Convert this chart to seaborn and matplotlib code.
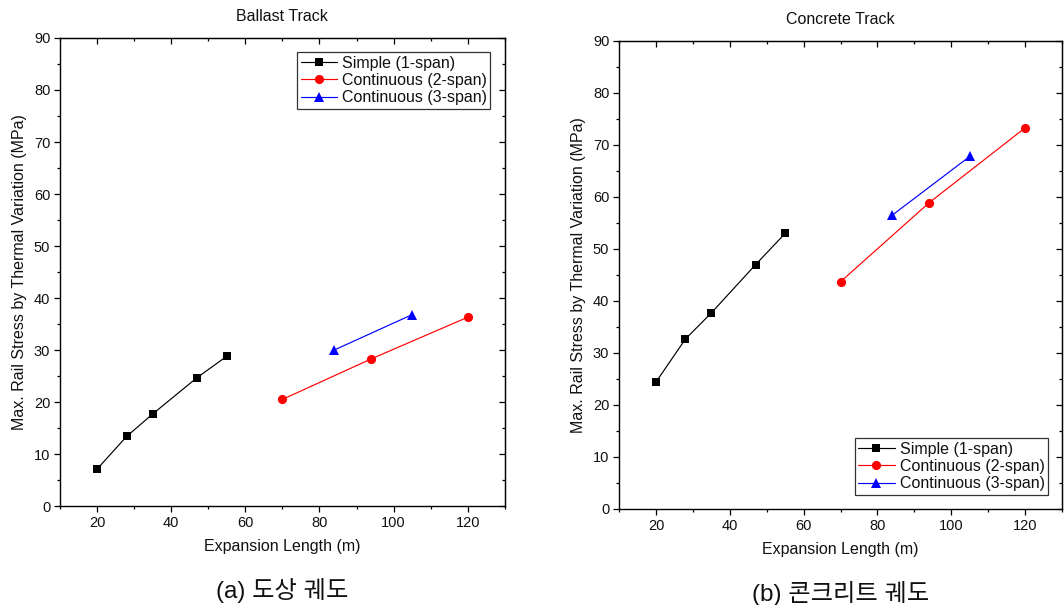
import pandas as pd
import seaborn as sns
import matplotlib.pyplot as plt
from matplotlib.ticker import MultipleLocator

# expansion lengths (m)
x_simple = [20, 28, 35, 47, 55]
x_cont2 = [70, 94, 120]
x_cont3 = [84, 105]

# max rail stress (MPa)
ballast_simple = [7.1, 13.4, 17.7, 24.7, 28.8]
ballast_cont2 = [20.5, 28.3, 36.3]
ballast_cont3 = [30.0, 36.8]

concrete_simple = [24.4, 32.7, 37.7, 47.0, 53.0]
concrete_cont2 = [43.7, 58.9, 73.3]
concrete_cont3 = [56.5, 67.8]

labels = ["Simple (1-span)", "Continuous (2-span)", "Continuous (3-span)"]
colors = ["black", "red", "blue"]
markers = ["s", "o", "^"]
msizes = [6, 6.6, 7.6]

sns.set_style("ticks")
plt.rcParams["font.family"] = ["Liberation Sans", "Noto Sans CJK KR", "DejaVu Sans"]
plt.rcParams["text.color"] = "#111111"
plt.rcParams["axes.labelcolor"] = "#111111"
plt.rcParams["xtick.color"] = "black"
plt.rcParams["ytick.color"] = "black"
plt.rcParams["xtick.labelcolor"] = "#111111"
plt.rcParams["ytick.labelcolor"] = "#111111"


def draw(ax, xs, ys, title, legend_loc, caption):
    for x, y, lab, c, m, ms in zip(xs, ys, labels, colors, markers, msizes):
        df = pd.DataFrame({"x": x, "y": y})
        sns.lineplot(data=df, x="x", y="y", color=c, marker=m, markersize=ms,
                     markeredgewidth=0, linewidth=0.85, sort=False, label=lab, ax=ax)
    ax.set_xlim(10, 130)
    ax.set_ylim(0, 90)
    ax.xaxis.set_major_locator(MultipleLocator(20))
    ax.xaxis.set_minor_locator(MultipleLocator(10))
    ax.yaxis.set_major_locator(MultipleLocator(10))
    ax.yaxis.set_minor_locator(MultipleLocator(5))
    ax.tick_params(which="major", direction="out", length=4, width=0.9, labelsize=10.5, pad=3,
                   bottom=True, left=True)
    ax.tick_params(which="minor", direction="out", length=2.5, width=0.9, bottom=True, left=True)
    for s in ax.spines.values():
        s.set_visible(True)
        s.set_linewidth(1.0)
        s.set_color("black")
    # mirrored inward ticks on top and right
    top = ax.secondary_xaxis("top")
    top.xaxis.set_major_locator(MultipleLocator(20))
    top.xaxis.set_minor_locator(MultipleLocator(10))
    top.tick_params(which="major", direction="in", length=4, width=0.9, labeltop=False, top=True)
    top.tick_params(which="minor", direction="in", length=2.5, width=0.9, top=True)
    right = ax.secondary_yaxis("right")
    right.yaxis.set_major_locator(MultipleLocator(10))
    right.yaxis.set_minor_locator(MultipleLocator(5))
    right.tick_params(which="major", direction="in", length=4, width=0.9, labelright=False, right=True)
    right.tick_params(which="minor", direction="in", length=2.5, width=0.9, right=True)

    ax.set_xlabel("Expansion Length (m)", fontsize=11.5, labelpad=7)
    ax.set_ylabel("Max. Rail Stress by Thermal Variation (MPa)", fontsize=11.5, labelpad=5)
    ax.set_title(title, fontsize=11.5, pad=12)
    leg = ax.legend(loc=legend_loc, fontsize=11.5, frameon=True, fancybox=False,
                    edgecolor="black", handlelength=2.3, handletextpad=0.3,
                    borderpad=0.2, labelspacing=0.15, borderaxespad=0.9)
    leg.get_frame().set_linewidth(0.9)
    ax.text(0.5, -0.18, caption, transform=ax.transAxes, ha="center", va="center",
            fontsize=17.5, fontweight="light", family=["Liberation Sans", "Noto Sans CJK KR"])


fig = plt.figure(figsize=(10.64, 6.05), dpi=100)
ax1 = fig.add_axes([0.0564, 0.1636, 0.418, 0.7736])
ax2 = fig.add_axes([0.5818, 0.1587, 0.4164, 0.7736])

draw(ax1, [x_simple, x_cont2, x_cont3], [ballast_simple, ballast_cont2, ballast_cont3],
     "Ballast Track", "upper right", "(a) 도상 궤도")
draw(ax2, [x_simple, x_cont2, x_cont3], [concrete_simple, concrete_cont2, concrete_cont3],
     "Concrete Track", "lower right", "(b) 콘크리트 궤도")

fig.savefig("out.png", dpi=100)
